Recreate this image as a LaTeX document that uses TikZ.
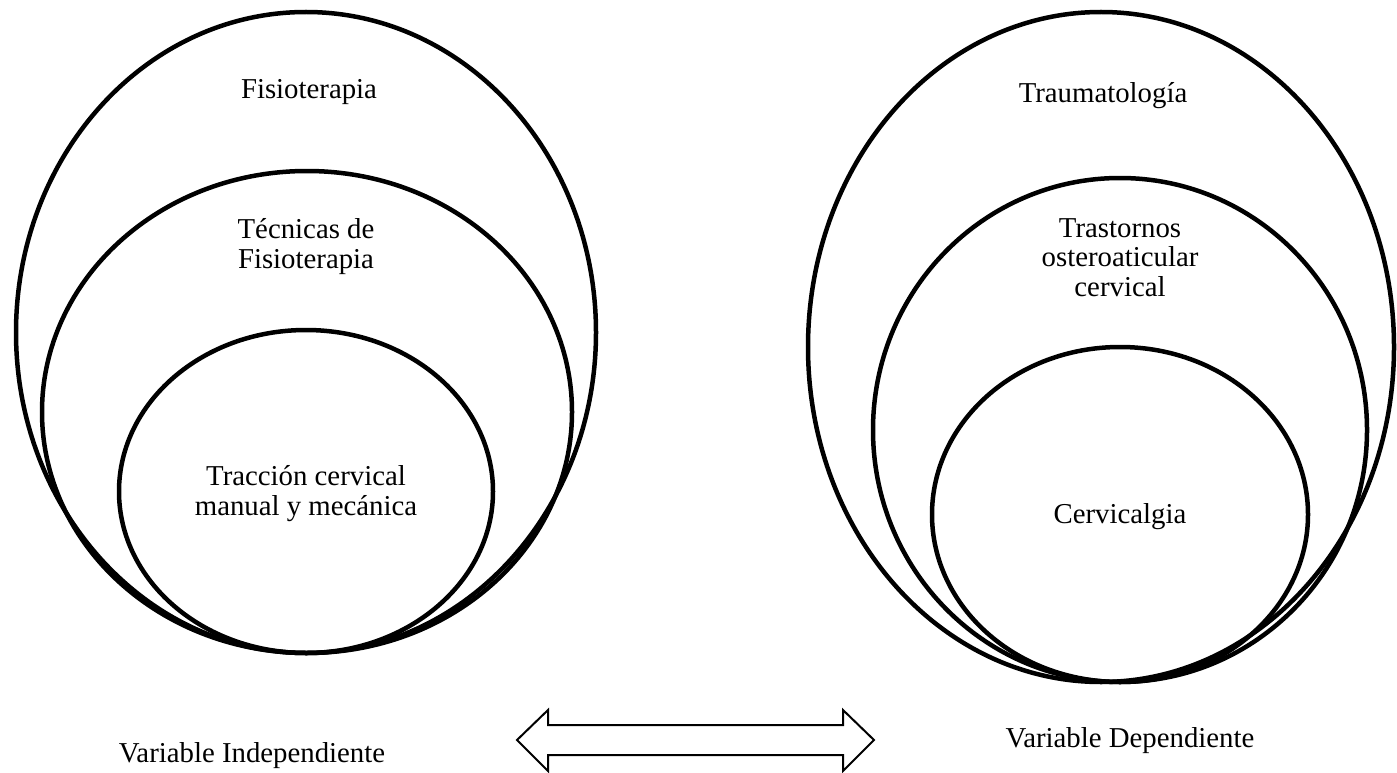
\documentclass[tikz,border=0pt]{standalone}
\usepackage{fontspec}
\setmainfont{Liberation Serif}
\usetikzlibrary{shapes.geometric}
\begin{document}
\begin{tikzpicture}[x=1pt,y=-1pt,
  ring/.style={ellipse, draw, line width=4.5pt, inner sep=0pt},
  lbl/.style={font=\fontsize{28.8}{29.5}\selectfont, align=center, inner sep=0pt, anchor=base},
  blockarrow/.style={draw, line width=2pt, line join=miter}]
\useasboundingbox (0,0) rectangle (1397,773);
% left set
\node[ring, minimum width=580pt, minimum height=641pt] (L1) at (306,332.5) {};
\node[ring, minimum width=530pt, minimum height=482pt] (L2) at (307,412) {};
\node[ring, minimum width=374pt, minimum height=323pt] (L3) at (306,491.5) {};
% right set
\node[ring, minimum width=586pt, minimum height=670pt] (R1) at (1101,347) {};
\node[ring, minimum width=494pt, minimum height=504pt] (R2) at (1120,430) {};
\node[ring, minimum width=376pt, minimum height=335pt] (R3) at (1120,514.5) {};
% labels (base = baseline of the last line)
\node[lbl] (tL1) at (309,99) {Fisioterapia};
\node[lbl] (tL2) at (306,268) {Técnicas de\\Fisioterapia};
\node[lbl] (tL3) at (306,515) {Tracción cervical\\manual y mecánica};
\node[lbl] (tR1) at (1103,103) {Traumatología};
\node[lbl] (tR2) at (1120,296) {Trastornos\\osteroaticular\\cervical};
\node[lbl] (tR3) at (1120,523) {Cervicalgia};
\node[lbl] (vi) at (252,762) {Variable Independiente};
\node[lbl] (vd) at (1130,747) {Variable Dependiente};
% double block arrow
\path[blockarrow] (517,740) -- (548,710) -- (548,725) -- (843,725) -- (843,710)
  -- (874,740) -- (843,771) -- (843,755) -- (548,755) -- (548,771) -- cycle;
\end{tikzpicture}
\end{document}
